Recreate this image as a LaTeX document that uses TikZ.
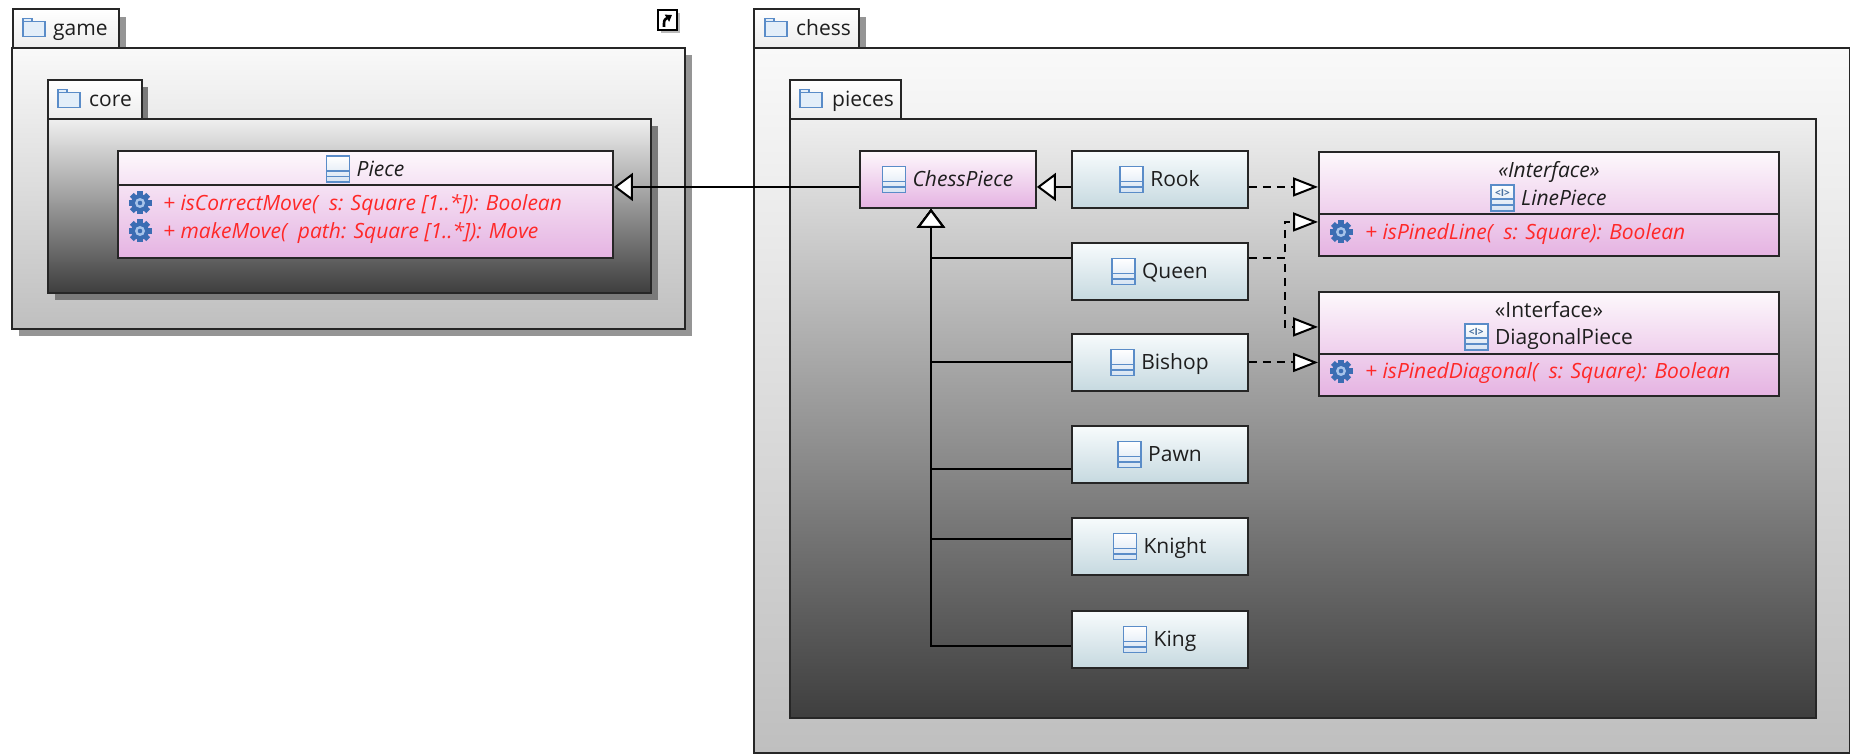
\documentclass[tikz,border=0pt]{standalone}
\usepackage{fontspec}
\setmainfont{Open Sans}
\usetikzlibrary{arrows.meta,calc}
\definecolor{pkgline}{HTML}{262626}
\definecolor{pkgtop}{HTML}{F9F9F9}
\definecolor{pkgbot}{HTML}{BFBFBF}
\definecolor{innertop}{HTML}{EFEFEF}
\definecolor{innerbot}{HTML}{3E3E3E}
\definecolor{tabbot}{HTML}{EDEDED}
\definecolor{shadowout}{HTML}{959595}
\definecolor{shadowin}{HTML}{7A7A7A}
\definecolor{clstop}{HTML}{FDF8FC}
\definecolor{clsbot}{HTML}{E5B3E2}
\definecolor{conctop}{HTML}{F7FBFC}
\definecolor{concbot}{HTML}{C6D9E0}
\definecolor{opred}{HTML}{FF2828}
\definecolor{textdark}{HTML}{1E1E1E}
\definecolor{iconblue}{HTML}{5A8CC8}
\definecolor{iconfill}{HTML}{D6E3F2}
\definecolor{gearblue}{HTML}{3B6DB3}
\definecolor{gearlight}{HTML}{A7C4EA}
\definecolor{folderfill}{HTML}{E3EEF9}
\newcommand\headlbl[4]{%
  \node[clsname, xshift=15pt] (#1) at (#2) {#3};
  \pic at ([xshift=-18.5pt]#1.west) {#4};
}
\begin{document}
\begin{tikzpicture}[x=1pt,y=-1pt,font=\fontsize{21}{24}\selectfont,
  pkgbody/.style={draw=pkgline, line width=1.9pt, inner sep=0pt, anchor=north west},
  pkgtab/.style={draw=pkgline, line width=1.9pt, inner sep=0pt, anchor=north west, top color=white, bottom color=tabbot},
  clsbox/.style={draw=pkgline, line width=1.9pt, inner sep=0pt, anchor=north west, top color=clstop, bottom color=clsbot},
  concbox/.style={draw=pkgline, line width=1.9pt, inner sep=0pt, anchor=north west, top color=conctop, bottom color=concbot, minimum width=176pt, minimum height=57pt},
  clsname/.style={inner sep=0pt, text=textdark, text height=14.5pt, text depth=0pt},
  pkglbl/.style={inner sep=0pt, text=textdark, text height=14.5pt, text depth=0pt, anchor=west},
  opstext/.style={inner sep=0pt, text=opred, font=\fontsize{21}{24}\selectfont\itshape, text height=14.5pt, text depth=0pt, anchor=west},
  divline/.style={draw=pkgline, line width=1.9pt},
  gen/.style={draw=black, line width=2pt, -{Triangle[fill=white,length=19pt,width=28pt]}},
  real/.style={draw=black, line width=2pt, dash pattern=on 8pt off 6pt, -{Triangle[fill=white,length=25pt,width=19pt]}},
  clsicon/.pic={
    \draw[iconblue, line width=1.6pt, top color=white, bottom color=iconfill] (-11.5,-13) rectangle (11.5,13);
    \draw[iconblue, line width=1.4pt] (-11.5,2) -- (11.5,2) (-11.5,7.5) -- (11.5,7.5);
  },
  ificon/.pic={
    \draw[iconblue, line width=1.6pt, top color=white, bottom color=iconfill] (-11.5,-13) rectangle (11.5,13);
    \draw[iconblue, line width=1.4pt] (-11.5,1) -- (11.5,1) (-11.5,7) -- (11.5,7);
    \node[inner sep=0pt, text=iconblue!80!black, font=\fontsize{10}{10}\selectfont\bfseries] at (0,-5.5) {<I>};
  },
  gearicon/.pic={
    \foreach \a in {0,45,...,315}{
      \fill[gearblue, rotate=\a] (-2.8,-11.5) rectangle (2.8,0);
    }
    \fill[gearblue] (0,0) circle (8.8);
    \fill[gearlight] (0,0) circle (5);
    \fill[gearblue] (0,0) circle (2.3);
  },
  foldericon/.pic={
    \draw[iconblue, line width=1.6pt, fill=folderfill] (-11,-9) -- (-2,-9) -- (-2,-6) -- (11,-6) -- (11,9) -- (-11,9) -- cycle;
    \draw[iconblue, line width=1.3pt] (-11,-6) -- (-2,-6);
  }
]
\useasboundingbox[fill=white] (0,0) rectangle (1850,754);

% ---------------- package game ----------------
\fill[shadowout] (19,55) rectangle (692,336);
\fill[shadowout] (118,17) rectangle (126,47);
\node[pkgbody, top color=pkgtop, bottom color=pkgbot, minimum width=673pt, minimum height=281pt] (game) at (11,47) {};
\node[pkgtab, minimum width=106pt, minimum height=39pt] (gametab) at (12,8) {};
\node[pkglbl] (gamelbl) at ([xshift=41pt,yshift=-20pt]gametab.north west) {game};
\pic at ([xshift=22pt,yshift=-19.5pt]gametab.north west) {foldericon};
% popup icon
\fill[gray!55] (661,13) rectangle (680,33);
\draw[line width=1.8pt, fill=white] (658,10) rectangle (677,30);
\draw[line width=2.6pt, -{Triangle[length=6pt,width=8pt]}] (664,27) .. controls (664,20) .. (672,15);

% ---------------- package core ----------------
\fill[shadowin] (55,126) rectangle (658,300);
\fill[shadowin] (141,87) rectangle (148,118);
\node[pkgbody, top color=innertop, bottom color=innerbot, minimum width=603pt, minimum height=174pt] (core) at (47,118) {};
\node[pkgtab, minimum width=94pt, minimum height=39pt] (coretab) at (47,79) {};
\node[pkglbl] (corelbl) at ([xshift=42pt,yshift=-20pt]coretab.north west) {core};
\pic at ([xshift=22pt,yshift=-19.5pt]coretab.north west) {foldericon};

% class Piece
\node[clsbox, minimum width=495pt, minimum height=107pt] (piece) at (117,150) {};
\draw[divline] ($(piece.north west)+(0,35)$) -- ($(piece.north east)+(0,35)$);
\headlbl{piecelbl}{$(piece.north)+(0,19)$}{\itshape Piece}{clsicon}
\pic at ($(piece.north west)+(23,53)$) {gearicon};
\node[opstext] (op1) at ($(piece.north west)+(46,53)$) {+ isCorrectMove(\ \ s: Square [1..*]): Boolean};
\pic at ($(piece.north west)+(23,81)$) {gearicon};
\node[opstext] (op2) at ($(piece.north west)+(46,81)$) {+ makeMove(\ \ path: Square [1..*]): Move};

% ---------------- package chess ----------------
\fill[shadowout] (858,17) rectangle (866,47);
\node[pkgbody, top color=pkgtop, bottom color=pkgbot, minimum width=1096pt, minimum height=705pt] (chess) at (753,47) {};
\node[pkgtab, minimum width=105pt, minimum height=39pt] (chesstab) at (753,8) {};
\node[pkglbl] (chesslbl) at ([xshift=43pt,yshift=-20pt]chesstab.north west) {chess};
\pic at ([xshift=23pt,yshift=-19.5pt]chesstab.north west) {foldericon};

% ---------------- package pieces ----------------
\node[pkgbody, top color=innertop, bottom color=innerbot, minimum width=1026pt, minimum height=599pt] (pieces) at (789,118) {};
\node[pkgtab, minimum width=111pt, minimum height=39pt] (piecestab) at (789,79) {};
\node[pkglbl] (pieceslbl) at ([xshift=43pt,yshift=-20pt]piecestab.north west) {pieces};
\pic at ([xshift=22pt,yshift=-19.5pt]piecestab.north west) {foldericon};

% ChessPiece
\node[clsbox, minimum width=176pt, minimum height=57pt] (chesspiece) at (859,150) {};
\headlbl{chesspiecelbl}{chesspiece.center}{\itshape ChessPiece}{clsicon}

% concrete classes
\node[concbox] (rook) at (1071,150) {};
\headlbl{rooklbl}{rook.center}{Rook}{clsicon}
\node[concbox] (queen) at (1071,242) {};
\headlbl{queenlbl}{queen.center}{Queen}{clsicon}
\node[concbox] (bishop) at (1071,333) {};
\headlbl{bishoplbl}{bishop.center}{Bishop}{clsicon}
\node[concbox] (pawn) at (1071,425) {};
\headlbl{pawnlbl}{pawn.center}{Pawn}{clsicon}
\node[concbox] (knight) at (1071,517) {};
\headlbl{knightlbl}{knight.center}{Knight}{clsicon}
\node[concbox] (king) at (1071,610) {};
\headlbl{kinglbl}{king.center}{King}{clsicon}

% interface LinePiece
\node[clsbox, minimum width=460pt, minimum height=104pt] (linepiece) at (1318,151) {};
\draw[divline] ($(linepiece.north west)+(0,63)$) -- ($(linepiece.north east)+(0,63)$);
\node[clsname, font=\fontsize{21}{24}\selectfont\itshape] (lpst) at ($(linepiece.north)+(0,19)$) {«Interface»};
\headlbl{linepiecelbl}{$(linepiece.north)+(0,47)$}{\itshape LinePiece}{ificon}
\pic at ($(linepiece.north west)+(23,81)$) {gearicon};
\node[opstext] (op3) at ($(linepiece.north west)+(47,81)$) {+ isPinedLine(\ \ s: Square): Boolean};

% interface DiagonalPiece
\node[clsbox, minimum width=460pt, minimum height=104pt] (diagonalpiece) at (1318,291) {};
\draw[divline] ($(diagonalpiece.north west)+(0,63)$) -- ($(diagonalpiece.north east)+(0,63)$);
\node[clsname] (dpst) at ($(diagonalpiece.north)+(0,19)$) {«Interface»};
\headlbl{diagonalpiecelbl}{$(diagonalpiece.north)+(0,46)$}{DiagonalPiece}{ificon}
\pic at ($(diagonalpiece.north west)+(23,80)$) {gearicon};
\node[opstext] (op4) at ($(diagonalpiece.north west)+(47,80)$) {+ isPinedDiagonal(\ \ s: Square): Boolean};

% ---------------- connectors ----------------
\coordinate (cpL) at ([yshift=-7.5pt]chesspiece.west);
\draw[gen] (cpL) -- (cpL -| piece.east);
\draw[gen] ([yshift=-7.5pt]rook.west) -- ([yshift=-7.5pt]chesspiece.east);
\coordinate (cpB) at ([xshift=-17pt]chesspiece.south);
\draw[gen] ([yshift=13pt]queen.west) -| (cpB);
\draw[gen] (bishop.west) -| (cpB);
\draw[gen] ([yshift=-14.5pt]pawn.west) -| (cpB);
\draw[gen] ([yshift=7.5pt]knight.west) -| (cpB);
\draw[gen] ([yshift=-6.5pt]king.west) -| (cpB);

\coordinate (rkE) at ([yshift=-7.5pt]rook.east);
\draw[real] (rkE) -- (rkE -| linepiece.west);
\coordinate (qE) at ([yshift=13pt]queen.east);
\coordinate (qJ) at ([xshift=36pt]qE);
\draw[real] (qE) -- (qJ) |- ([yshift=-18pt]linepiece.west);
\draw[real] (qE) -- (qJ) |- ([yshift=17pt]diagonalpiece.west);
\coordinate (bE) at (bishop.east);
\draw[real] (bE) -- (bE -| diagonalpiece.west);
\end{tikzpicture}
\end{document}
